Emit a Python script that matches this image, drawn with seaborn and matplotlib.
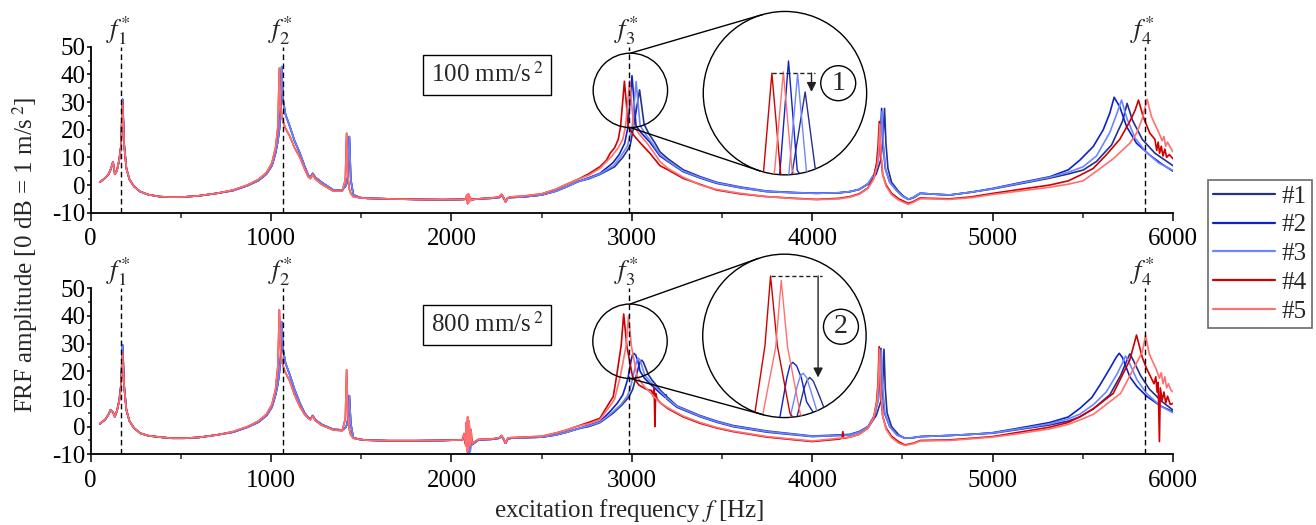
import matplotlib
matplotlib.use("Agg")
import matplotlib.pyplot as plt
from matplotlib import patches
from matplotlib.lines import Line2D
import numpy as np
import pandas as pd
import seaborn as sns

# ---------------------------------------------------------------- data
SERIES = ["#1", "#2", "#3", "#4", "#5"]
COLORS = ["#24308f", "#0d22c8", "#6b87ff", "#d00000", "#ff7070"]
PALETTE = dict(zip(SERIES, COLORS))

F_STAR = [166, 1064, 2982, 5846]
F_STAR_LABELS = [r"$f_{1}^{*}$", r"$f_{2}^{*}$", r"$f_{3}^{*}$", r"$f_{4}^{*}$"]
LEVEL_LABELS = [r"100 mm/s$\,^{2}$", r"800 mm/s$\,^{2}$"]
MARK_LABELS = ["1", "2"]

# shared frequency grid below 2.7 kHz [Hz]
LOW_F = [50, 80, 100, 110, 124, 134, 145, 158, 168, 177,
         186, 198, 215, 240, 275, 320, 384, 450, 520, 600,
         700, 790, 870, 930, 975, 1005, 1025, 1038, 1046, 1053,
         1059, 1066, 1080, 1105, 1130, 1160, 1185, 1206, 1218, 1231,
         1245, 1280, 1345, 1395, 1412, 1419, 1426, 1434, 1442, 1456,
         1490, 1530, 1650, 1800, 1950, 2060, 2070, 2080, 2083, 2086,
         2090, 2094, 2098, 2104, 2108, 2115, 2150, 2220, 2265, 2278,
         2290, 2300, 2312, 2330, 2400, 2500, 2580, 2640, 2700]

# 100 mm/s^2, specimens #1-#3 and #4-#5 below 2.7 kHz [dB]
TOP_LOW_BLUE = [1.0, 2.5, 4.0, 5.5, 8.4, 4.0, 5.0, 9.0, 14.0, 31.0,
                14.5, 6.0, 2.0, -0.5, -2.4, -3.5, -4.2, -4.4, -4.3, -3.9,
                -3.0, -2.0, -0.2, 1.6, 4.0, 7.0, 11.5, 16.0, 20.0, 27.0,
                42.8, 31.0, 25.5, 21.0, 16.0, 11.5, 7.0, 3.6, 2.8, 4.2,
                2.8, 1.0, -1.8, -1.8, -0.5, 0.5, 3.0, 17.5, 2.0, -3.5,
                -4.5, -4.8, -5.0, -5.2, -5.3, -5.2, -5.2, -5.1, -4.6, -4.2,
                -5.8, -4.0, -5.6, -4.8, -5.4, -5.2, -5.0, -4.8, -4.5, -3.6,
                -4.8, -6.0, -4.8, -4.5, -4.3, -3.6, -2.2, -0.6, 1.2]
TOP_LOW_RED = [1.0, 2.5, 4.0, 5.5, 8.4, 4.0, 5.0, 9.0, 14.0, 30.0,
               14.0, 6.0, 2.0, -0.5, -2.4, -3.5, -4.2, -4.4, -4.3, -3.9,
               -3.0, -1.8, 0.0, 2.0, 4.5, 8.0, 13.5, 21.0, 42.2, 29.0,
               25.0, 23.0, 20.5, 17.5, 13.5, 10.0, 6.0, 3.0, 2.3, 3.8,
               2.2, 0.3, -2.2, -2.2, 2.0, 18.7, 3.0, -1.5, -3.0, -4.2,
               -4.6, -4.8, -5.0, -5.2, -5.3, -5.2, -5.1, -5.0, -4.0, -3.5,
               -6.8, -3.2, -6.2, -4.4, -5.6, -5.3, -5.0, -4.7, -4.3, -3.3,
               -4.6, -6.2, -4.6, -4.3, -4.0, -3.2, -1.5, 0.3, 2.0]

# 800 mm/s^2, specimens #1-#3 and #4-#5 below 2.7 kHz [dB]
BOT_LOW_BLUE = [1.0, 2.5, 4.5, 6.0, 5.2, 3.6, 5.5, 9.5, 15.0, 29.5,
                14.5, 6.0, 2.0, -0.5, -2.4, -3.3, -3.8, -4.2, -4.2, -3.9,
                -3.0, -2.0, -0.2, 1.6, 4.0, 7.0, 11.5, 15.5, 19.5, 25.0,
                37.9, 28.0, 23.0, 18.5, 13.5, 8.5, 5.0, 3.3, 2.8, 4.0,
                2.5, 0.8, -1.0, -1.2, -0.5, 0.5, 2.5, 11.2, 1.0, -4.0,
                -4.6, -4.9, -5.1, -5.1, -5.0, -4.8, -4.0, -6.5, -2.0, -8.0,
                -1.0, -10.0, -2.0, -9.0, -3.5, -6.5, -4.8, -4.6, -4.2, -3.4,
                -4.7, -6.0, -4.5, -4.2, -4.0, -3.8, -3.0, -2.0, -0.8]
BOT_LOW_RED = [1.0, 2.5, 4.5, 6.0, 5.2, 3.6, 5.5, 9.0, 14.0, 26.5,
               14.0, 6.0, 2.0, -0.5, -2.4, -3.3, -3.8, -4.2, -4.2, -3.9,
               -3.0, -1.8, 0.0, 2.0, 4.5, 8.0, 13.5, 22.0, 42.2, 28.0,
               24.0, 22.0, 19.5, 16.3, 11.5, 7.2, 4.5, 3.0, 2.5, 3.8,
               2.2, 0.5, -1.2, -1.5, 3.0, 20.5, 4.0, -1.0, -3.0, -4.2,
               -4.6, -4.9, -5.1, -5.1, -5.0, -4.8, -2.5, -7.0, 1.5, -9.0,
               3.5, -8.5, 2.0, -7.0, -1.0, -6.0, -4.6, -4.5, -4.0, -3.2,
               -4.5, -6.0, -4.2, -4.0, -3.8, -3.5, -2.3, -1.2, 0.2]

# 100 mm/s^2 above 2.7 kHz, one list per specimen
TOP_F1 = [2760, 2823, 2905, 2950, 2990, 3010, 3043, 3068, 3095, 3130, 3156, 3200, 3285,
          3380, 3470, 3600, 3747, 3900, 4024, 4150, 4209, 4260, 4315, 4355, 4380, 4392,
          4401, 4409, 4420, 4440, 4475, 4505, 4535, 4565, 4600, 4700, 4763, 4880, 5003,
          5150, 5318, 5420, 5502, 5576, 5660, 5720, 5746, 5775, 5830, 5900, 6000]
TOP_DB1 = [2.2, 3.8, 6.6, 10.0, 14.0, 21.0, 34.4, 22.0, 18.5, 15.0, 12.0, 9.5, 5.5,
           3.0, 1.0, -0.7, -2.2, -2.7, -3.0, -2.8, -2.4, -1.6, 0.5, 4.0, 9.0, 16.0,
           27.7, 15.0, 6.0, 1.0, -2.0, -4.0, -5.2, -4.5, -3.0, -3.4, -3.6, -2.6, -1.4,
           0.4, 2.5, 4.0, 5.4, 8.5, 14.5, 23.0, 29.5, 23.5, 16.5, 11.5, 7.0]
TOP_F2 = [2760, 2823, 2895, 2930, 2960, 2979, 3001, 3023, 3050, 3100, 3156, 3200, 3285,
          3380, 3470, 3600, 3747, 3900, 4024, 4150, 4209, 4260, 4310, 4345, 4365, 4377,
          4385, 4393, 4405, 4430, 4468, 4500, 4532, 4560, 4597, 4700, 4763, 4880, 5003,
          5150, 5318, 5420, 5484, 5558, 5613, 5650, 5674, 5705, 5743, 5798, 5872, 5940, 6000]
TOP_DB2 = [2.6, 4.2, 8.0, 11.0, 15.0, 21.0, 39.5, 21.5, 19.0, 15.5, 10.5, 8.5, 4.8,
           2.5, 0.6, -1.0, -2.4, -2.8, -3.0, -2.8, -2.4, -1.6, 0.5, 4.0, 9.0, 16.0,
           27.7, 15.0, 6.0, 1.0, -2.0, -4.0, -5.2, -4.5, -3.0, -3.4, -3.6, -2.6, -1.2,
           0.8, 3.0, 5.5, 9.0, 13.9, 19.9, 26.0, 31.7, 28.3, 21.1, 15.1, 10.8, 7.5, 5.0]
TOP_F3 = [2760, 2823, 2900, 2940, 2975, 3002, 3024, 3046, 3075, 3120, 3156, 3200, 3285,
          3380, 3470, 3600, 3747, 3900, 4024, 4150, 4209, 4260, 4310, 4345, 4367, 4379,
          4387, 4395, 4407, 4430, 4468, 4500, 4532, 4560, 4597, 4700, 4763, 4880, 5003,
          5150, 5318, 5420, 5502, 5576, 5650, 5690, 5715, 5745, 5790, 5850, 5920, 6000]
TOP_DB3 = [2.4, 4.0, 7.0, 10.5, 14.0, 21.0, 37.4, 21.5, 18.5, 14.5, 11.0, 8.8, 5.0,
           2.7, 0.8, -0.9, -2.3, -2.8, -3.0, -2.8, -2.4, -1.6, 0.5, 4.0, 9.0, 16.0,
           26.5, 14.0, 5.5, 1.0, -2.0, -4.0, -5.2, -4.5, -3.0, -3.4, -3.6, -2.6, -1.3,
           0.6, 2.8, 4.6, 6.6, 10.5, 19.0, 26.0, 30.7, 24.0, 17.0, 12.0, 8.0, 5.3]
TOP_F4 = [2760, 2823, 2860, 2880, 2905, 2925, 2938, 2959, 2981, 3010, 3050, 3100, 3156,
          3200, 3285, 3380, 3470, 3600, 3747, 3900, 4024, 4150, 4209, 4260, 4310, 4340,
          4357, 4365, 4372, 4379, 4390, 4410, 4440, 4480, 4532, 4560, 4597, 4650, 4763,
          4880, 5003, 5150, 5318, 5420, 5484, 5558, 5632, 5705, 5761, 5790, 5809, 5835,
          5872, 5900, 5910, 5918, 5926, 5935, 5945, 5955, 5965, 5980, 6000]
TOP_DB4 = [4.0, 6.6, 9.0, 11.5, 13.5, 16.5, 21.3, 37.5, 21.0, 18.0, 15.0, 11.5, 7.0,
           5.5, 2.4, 0.2, -1.8, -3.2, -4.2, -4.8, -5.2, -4.8, -4.2, -3.2, -1.0, 2.5,
           8.0, 14.0, 23.0, 12.0, 4.0, 0.0, -3.0, -5.0, -6.6, -6.0, -4.7, -4.8, -5.0,
           -4.3, -3.0, -1.6, 0.0, 1.5, 3.5, 6.0, 11.0, 16.5, 23.0, 27.0, 30.7, 24.7,
           18.7, 16.5, 12.5, 15.5, 11.5, 14.0, 10.5, 13.0, 10.0, 11.0, 9.5]
TOP_F5 = [2760, 2823, 2890, 2925, 2950, 2966, 2988, 3010, 3040, 3080, 3120, 3156, 3200,
          3285, 3380, 3470, 3600, 3747, 3900, 4024, 4150, 4209, 4260, 4310, 4340, 4360,
          4368, 4375, 4382, 4392, 4410, 4440, 4480, 4532, 4560, 4597, 4650, 4763, 4880,
          5003, 5150, 5318, 5420, 5502, 5576, 5669, 5761, 5798, 5830, 5857, 5881, 5927,
          5940, 5950, 5960, 5970, 5983, 6000]
TOP_DB5 = [3.5, 6.0, 10.5, 13.5, 16.5, 21.5, 37.7, 21.5, 18.5, 15.5, 12.0, 8.5, 6.0,
           2.8, 0.0, -1.6, -3.0, -4.2, -4.9, -5.3, -5.0, -4.4, -3.4, -1.2, 2.0, 7.0,
           12.0, 22.0, 11.0, 3.5, -0.5, -3.5, -5.5, -7.0, -6.3, -5.0, -5.0, -5.2, -4.6,
           -3.4, -2.2, -0.8, 0.3, 1.5, 5.0, 9.5, 15.1, 18.7, 24.0, 31.0, 24.7, 18.1,
           16.0, 17.5, 14.0, 15.5, 13.9, 12.0]

# 800 mm/s^2 above 2.7 kHz, one list per specimen
BOT_F1 = [2760, 2823, 2895, 2945, 2985, 3005, 3022, 3040, 3047, 3054, 3063, 3075, 3090,
          3110, 3135, 3160, 3200, 3250, 3378, 3470, 3561, 3750, 4000, 4150, 4209, 4260,
          4315, 4355, 4385, 4392, 4398, 4405, 4415, 4440, 4480, 4514, 4560, 4600, 4763,
          4880, 5000, 5150, 5318, 5420, 5484, 5560, 5650, 5710, 5745, 5761, 5780, 5820,
          5870, 5940, 6000]
BOT_DB1 = [0.0, 1.4, 4.8, 7.8, 10.8, 13.5, 17.6, 22.3, 23.5, 24.0, 23.4, 21.5, 19.0,
           17.0, 15.0, 13.0, 10.5, 7.5, 4.0, 2.0, 0.4, -1.6, -3.4, -3.0, -2.8, -1.8,
           0.2, 4.0, 10.0, 17.0, 28.0, 14.0, 5.0, 0.0, -3.0, -4.2, -4.0, -3.6, -3.2,
           -2.8, -2.4, -1.0, 0.6, 2.0, 3.5, 6.5, 11.5, 18.5, 24.0, 26.3, 24.0, 18.5,
           13.5, 9.0, 6.0]
BOT_F2 = [2760, 2823, 2880, 2920, 2950, 2965, 2979, 2996, 3004, 3011, 3021, 3033, 3046,
          3070, 3100, 3119, 3150, 3186, 3190, 3194, 3250, 3378, 3470, 3561, 3750, 4000,
          4150, 4209, 4260, 4310, 4345, 4366, 4375, 4381, 4388, 4400, 4430, 4470, 4514,
          4560, 4600, 4763, 4880, 5000, 5150, 5318, 5420, 5484, 5550, 5595, 5650, 5685,
          5702, 5720, 5761, 5800, 5854, 5930, 6000]
BOT_DB2 = [0.5, 1.8, 5.5, 8.5, 11.5, 14.5, 17.6, 23.9, 26.0, 26.5, 25.9, 23.9, 20.0,
           17.5, 15.5, 14.4, 12.5, 10.5, 11.5, 10.0, 7.0, 3.6, 1.6, 0.0, -2.0, -3.6,
           -3.2, -3.0, -2.0, 0.0, 4.0, 10.0, 17.0, 28.3, 15.0, 5.0, 0.0, -3.0, -4.2,
           -4.0, -3.6, -3.2, -2.8, -2.2, -0.5, 1.5, 3.5, 6.6, 10.5, 15.0, 21.0, 25.0,
           26.5, 25.0, 18.0, 14.5, 11.0, 7.5, 5.4]
BOT_F3 = [2760, 2823, 2890, 2940, 2975, 2990, 3005, 3022, 3030, 3037, 3046, 3058, 3072,
          3100, 3130, 3160, 3200, 3250, 3378, 3470, 3561, 3750, 4000, 4150, 4209, 4260,
          4310, 4345, 4368, 4377, 4384, 4391, 4403, 4430, 4470, 4514, 4560, 4600, 4763,
          4880, 5000, 5150, 5318, 5420, 5484, 5560, 5630, 5690, 5720, 5737, 5755, 5800,
          5854, 5930, 6000]
BOT_DB3 = [0.3, 1.6, 5.0, 8.0, 11.0, 13.5, 17.6, 22.5, 24.2, 24.7, 24.0, 21.5, 18.5,
           16.5, 14.5, 12.5, 10.0, 7.3, 3.8, 1.8, 0.2, -1.8, -3.5, -3.2, -3.0, -2.0,
           0.0, 4.0, 10.0, 17.0, 27.5, 14.0, 5.0, 0.0, -3.0, -4.2, -4.0, -3.6, -3.2,
           -2.8, -2.3, -0.8, 1.0, 2.8, 4.5, 8.0, 12.5, 19.0, 23.0, 25.5, 23.5, 17.0,
           12.0, 7.5, 5.0]
BOT_F4 = [2760, 2823, 2879, 2897, 2916, 2941, 2955, 2972, 3004, 3040, 3080, 3110, 3118,
          3124, 3128, 3132, 3140, 3160, 3200, 3285, 3378, 3470, 3561, 3750, 4000, 4150,
          4165, 4170, 4175, 4209, 4260, 4310, 4340, 4357, 4365, 4371, 4378, 4390, 4410,
          4440, 4480, 4514, 4560, 4600, 4763, 4880, 5000, 5150, 5318, 5420, 5484, 5560,
          5669, 5761, 5798, 5830, 5854, 5880, 5895, 5905, 5912, 5918, 5925, 5930, 5940,
          5950, 5960, 5970, 5985, 6000]
BOT_DB4 = [1.5, 3.0, 9.0, 10.8, 18.4, 29.3, 40.7, 29.3, 18.1, 15.0, 13.5, 13.0, 11.0,
           14.0, 0.0, 12.0, 10.0, 8.5, 6.5, 3.5, 1.2, -0.5, -1.8, -3.8, -5.4, -4.5,
           -4.2, -1.8, -4.2, -3.8, -2.8, -0.5, 3.0, 9.0, 16.0, 28.9, 14.0, 4.0, -0.5,
           -3.5, -5.5, -6.6, -6.0, -5.0, -4.8, -4.2, -3.6, -2.0, -0.2, 1.5, 3.6, 6.5,
           12.0, 24.1, 33.1, 25.0, 21.0, 17.5, 15.5, 18.0, 12.5, 16.0, -5.4, 14.0, 9.5,
           12.5, 8.5, 11.0, 8.0, 8.4]
BOT_F5 = [2760, 2823, 2885, 2905, 2937, 2968, 2982, 2998, 3030, 3065, 3100, 3150, 3200,
          3285, 3378, 3470, 3561, 3750, 4000, 4209, 4260, 4310, 4340, 4359, 4367, 4373,
          4380, 4392, 4410, 4440, 4480, 4514, 4560, 4600, 4763, 4880, 5000, 5150, 5318,
          5420, 5484, 5560, 5710, 5798, 5830, 5848, 5870, 5909, 5925, 5935, 5945, 5955,
          5965, 5975, 5990, 6000]
BOT_DB5 = [1.0, 2.5, 8.0, 10.0, 18.4, 29.0, 40.0, 29.0, 18.0, 14.8, 12.5, 9.0, 6.8,
           3.8, 1.5, -0.3, -1.6, -3.6, -5.2, -3.8, -2.8, -0.5, 3.0, 9.0, 16.0, 28.0,
           13.0, 3.5, -1.0, -4.0, -6.0, -6.8, -6.2, -5.2, -5.0, -4.4, -3.8, -2.5, -0.8,
           0.8, 2.4, 4.5, 12.0, 23.0, 27.0, 32.9, 26.0, 20.5, 17.5, 19.5, 15.5, 18.0,
           14.0, 15.5, 13.0, 12.6]


# ---------------------------------------------------------------- tables
def panel_frame(low_blue, low_red, hi_f, hi_db):
    parts = []
    for i, name in enumerate(SERIES):
        low = low_blue if i < 3 else low_red
        parts.append(pd.DataFrame({"f": LOW_F + hi_f[i], "dB": low + hi_db[i],
                                   "series": name}))
    return pd.concat(parts, ignore_index=True)


def peak(fs, dbs, lo=2850, hi=3150):
    return max((d, f) for f, d in zip(fs, dbs) if lo <= f <= hi)[::-1]


df_top = panel_frame(TOP_LOW_BLUE, TOP_LOW_RED,
                     [TOP_F1, TOP_F2, TOP_F3, TOP_F4, TOP_F5],
                     [TOP_DB1, TOP_DB2, TOP_DB3, TOP_DB4, TOP_DB5])
df_bot = panel_frame(BOT_LOW_BLUE, BOT_LOW_RED,
                     [BOT_F1, BOT_F2, BOT_F3, BOT_F4, BOT_F5],
                     [BOT_DB1, BOT_DB2, BOT_DB3, BOT_DB4, BOT_DB5])

# ---------------------------------------------------------------- style
sns.set_style("ticks")
plt.rcParams.update({
    "font.family": "serif",
    "font.serif": ["Liberation Serif", "DejaVu Serif"],
    "mathtext.fontset": "stix",
    "axes.unicode_minus": False,
    "axes.linewidth": 1.3,
    "axes.edgecolor": "black",
})

fig = plt.figure(figsize=(13.16, 5.25), dpi=100)
ax_top = fig.add_axes([0.0689, 0.5949, 0.8224, 0.3162])
ax_bot = fig.add_axes([0.0689, 0.1347, 0.8224, 0.3162])


def style_axes(ax):
    ax.set_xlim(0, 6000)
    ax.set_ylim(-10, 50)
    ax.set_xticks(np.arange(0, 6001, 1000))
    ax.set_xticks(np.arange(500, 6000, 1000), minor=True)
    ax.set_yticks(np.arange(-10, 51, 10))
    ax.set_yticks(np.arange(-5, 50, 10), minor=True)
    ax.set_xlabel("")
    ax.set_ylabel("")
    for side in ("top", "right"):
        ax.spines[side].set_visible(False)
    ax.tick_params(axis="x", which="major", direction="out", length=5.5, width=1.1,
                   labelsize=18, pad=5.5, color="black", labelcolor="black")
    ax.tick_params(axis="x", which="minor", direction="out", length=3.5, width=1.1)
    ax.tick_params(axis="y", which="major", direction="out", length=3.0, width=1.1,
                   labelsize=18, pad=0.5, color="black", labelcolor="black")
    ax.tick_params(axis="y", which="minor", direction="out", length=2.5, width=1.1)


def magnifier(ax, df, small_c, big_c, r_small, r_big, hi_pk, lo_pk,
              x_arrow, x_end, mark, mark_pos):
    W, H = fig.bbox.width, fig.bbox.height
    x1, y1 = ax.transData.transform(small_c)
    x2, y2 = ax.transData.transform(big_c)
    fig.add_artist(patches.Ellipse((x1 / W, y1 / H), 2 * r_small / W, 2 * r_small / H,
                                   transform=fig.transFigure, fill=False,
                                   ec="black", lw=1.0))
    dx, dy = x2 - x1, y2 - y1
    L = np.hypot(dx, dy)
    ux, uy = dx / L, dy / L
    s = (r_big - r_small) / L
    c = np.sqrt(1 - s * s)
    for sign in (1, -1):
        nx = -s * ux - sign * c * uy
        ny = -s * uy + sign * c * ux
        xs = [x1 / W, (x2 + r_big * nx) / W]
        ys = [(y1 + sign * r_small) / H, (y2 + r_big * ny) / H]
        fig.add_artist(Line2D(xs, ys, transform=fig.transFigure,
                              color="black", lw=1.0))

    ax_in = fig.add_axes([(x2 - r_big) / W, (y2 - r_big) / H,
                          2 * r_big / W, 2 * r_big / H])
    ppx = (ax.transData.transform((small_c[0] + 1000, small_c[1]))[0] - x1) / 1000
    ppy = (ax.transData.transform((small_c[0], small_c[1] + 10))[1] - y1) / 10
    hw, hh = r_small / ppx, r_small / ppy
    sub = df[(df["f"] > small_c[0] - 3 * hw) & (df["f"] < small_c[0] + 3 * hw)]
    ax_in.add_patch(patches.Circle((0.5, 0.5), 0.5, transform=ax_in.transAxes,
                                   fc="white", ec="none", zorder=0))
    sns.lineplot(data=sub, x="f", y="dB", hue="series", hue_order=SERIES,
                 palette=PALETTE, estimator=None, lw=1.0, legend=False, ax=ax_in)
    ax_in.set_xlim(small_c[0] - hw, small_c[0] + hw)
    ax_in.set_ylim(small_c[1] - hh, small_c[1] + hh)
    ax_in.axis("off")
    clip = patches.Circle((0.5, 0.5), 0.5, transform=ax_in.transAxes)
    for ln in ax_in.lines:
        ln.set_clip_path(clip)
    ax_in.add_patch(patches.Circle((0.5, 0.5), 0.5, transform=ax_in.transAxes,
                                   fill=False, ec="black", lw=1.0, clip_on=False))
    # drop of the resonance level between the specimens
    ax_in.plot([hi_pk[0], x_end], [hi_pk[1], hi_pk[1]], color="#222222",
               lw=1.0, ls=(0, (3, 2)))
    ax_in.annotate("", xy=(x_arrow, lo_pk[1]), xytext=(x_arrow, hi_pk[1]),
                   arrowprops=dict(arrowstyle="-|>", color="#222222", lw=1.0,
                                   mutation_scale=14, shrinkA=0, shrinkB=0))
    ax_in.add_patch(patches.Circle(mark_pos, 0.107, transform=ax_in.transAxes,
                                   fc="white", ec="black", lw=1.0, clip_on=False))
    ax_in.text(mark_pos[0], mark_pos[1], mark, transform=ax_in.transAxes,
               ha="center", va="center", fontsize=20)


panels = [(ax_top, df_top, TOP_F4, TOP_DB4, TOP_F1, TOP_DB1, 0.83,
           (2992, 34.2), (3849, 33.2), 3059, 3068, (0.826, 0.561)),
          (ax_bot, df_bot, BOT_F4, BOT_DB4, BOT_F1, BOT_DB1, 0.78,
           (2990, 30.85), (3846, 32.8), 3075, 3086, (0.846, 0.556))]

for k, (ax, df, f4, d4, f1, d1, ybox, small_c, big_c, xa, xe, mpos) in enumerate(panels):
    sns.lineplot(data=df, x="f", y="dB", hue="series", hue_order=SERIES,
                 palette=PALETTE, estimator=None, lw=1.2, legend=False, ax=ax)
    style_axes(ax)
    for fs, lab in zip(F_STAR, F_STAR_LABELS):
        ax.axvline(fs, color="black", lw=1.0, ls=(0, (4, 2.5)), zorder=5)
        ax.annotate(lab, xy=(fs, 1.0), xycoords=("data", "axes fraction"),
                    xytext=(-2, 0), textcoords="offset points",
                    ha="center", va="bottom", fontsize=19)
    ax.text(0.3666, ybox, LEVEL_LABELS[k], transform=ax.transAxes, ha="center",
            va="center", fontsize=18,
            bbox=dict(boxstyle="square,pad=0.3", fc="white", ec="black", lw=1.0))
    magnifier(ax, df, small_c, big_c, 37.2, 81.7, peak(f4, d4), peak(f1, d1),
              xa, xe, MARK_LABELS[k], mpos)

fig.text(0.019, 0.515, r"FRF amplitude [0 dB = 1 m/s$\,^{2}$]", rotation=90,
         ha="center", va="center", fontsize=18)
fig.text(0.478, 0.027, r"excitation frequency $f$ [Hz]", ha="center",
         va="center", fontsize=18)

handles = [Line2D([], [], color=c, lw=1.6) for c in COLORS]
leg = fig.legend(handles, SERIES, loc="upper left", bbox_to_anchor=(0.9177, 0.657),
                 frameon=True, fancybox=False, edgecolor="#444444", fontsize=18,
                 handlelength=2.5, handletextpad=0.25, labelspacing=0.25,
                 borderpad=0.2, borderaxespad=0)
leg.get_frame().set_linewidth(1.2)

fig.savefig("out.png", dpi=100)
